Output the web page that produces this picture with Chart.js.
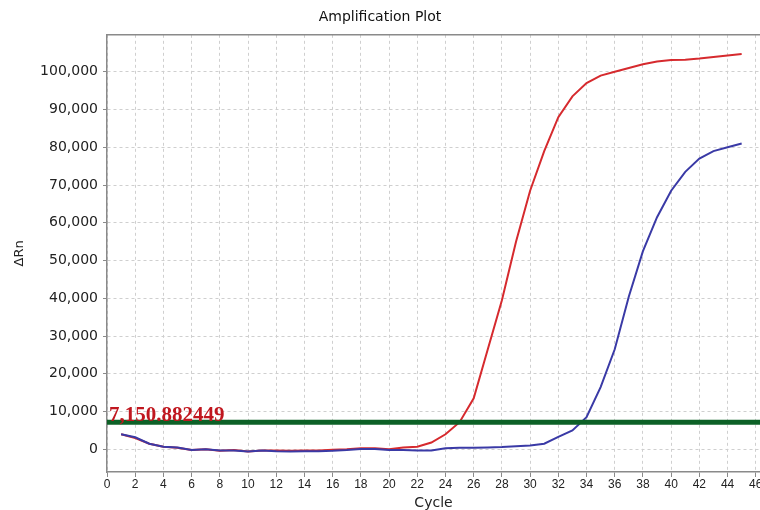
<!DOCTYPE html>
<html>
<head>
<meta charset="utf-8">
<script src="https://cdn.jsdelivr.net/npm/chart.js@4"></script>
<style>
  html, body { margin: 0; padding: 0; background: #ffffff; }
  #wrap { width: 760px; height: 510px; position: relative; }
</style>
</head>
<body>
<div id="wrap"><canvas id="c"></canvas></div>
<script>
const cycles = [1,2,3,4,5,6,7,8,9,10,11,12,13,14,15,16,17,18,19,20,21,22,23,24,25,26,27,28,29,30,31,32,33,34,35,36,37,38,39,40,41,42,43,44,45];
const redSeries = [4000, 3000, 1500, 700, 400, -200, 0, -400, -200, -600, -300, -300, -400, -300, -300, -100, 0, 300, 300, 0, 500, 700, 1800, 4000, 7200, 13500, 26500, 39500, 55000, 68500, 79000, 88000, 93500, 97000, 99000, 100000, 101000, 102000, 102700, 103100, 103200, 103500, 103900, 104300, 104700];
const blueSeries = [4000, 3200, 1500, 700, 500, -200, 0, -300, -300, -600, -300, -500, -600, -500, -500, -400, -200, 100, 100, -200, -200, -300, -300, 300, 400, 400, 500, 600, 800, 1000, 1500, 3300, 5000, 8500, 16500, 26500, 40500, 52500, 61500, 68500, 73500, 77000, 79000, 80000, 81000];
const threshold = 7150.882449;
const thresholdLabel = "7,150.882449";
const xTicks = [0,2,4,6,8,10,12,14,16,18,20,22,24,26,28,30,32,34,36,38,40,42,44,46];
const yTicks = [0,10000,20000,30000,40000,50000,60000,70000,80000,90000,100000];
const xRange = [0, 46.3];
const yRange = [-6000, 109800];

const toPts = (ys) => ys.map((y, i) => ({x: cycles[i], y: y}));

const decor = {
  id: 'decor',
  afterDatasetsDraw(chart) {
    const {ctx, chartArea, scales} = chart;
    ctx.save();
    ctx.strokeStyle = '#8a8a8a';
    ctx.lineWidth = 1.5;
    ctx.beginPath();
    ctx.moveTo(chartArea.left, chartArea.top);
    ctx.lineTo(chartArea.right, chartArea.top);
    ctx.stroke();
    const y = scales.y.getPixelForValue(threshold);
    ctx.fillStyle = '#c0171f';
    ctx.font = 'bold 21px "Liberation Serif", "Times New Roman", serif';
    ctx.textAlign = 'left';
    ctx.textBaseline = 'alphabetic';
    ctx.fillText(thresholdLabel, chartArea.left + 2, y - 1);
    ctx.restore();
  }
};

new Chart(document.getElementById('c'), {
  type: 'line',
  data: {
    datasets: [
      {
        label: 'threshold',
        data: [{x: xRange[0], y: threshold}, {x: xRange[1], y: threshold}],
        borderColor: '#0d6127',
        borderWidth: 5,
        pointRadius: 0,
        order: 0
      },
      {
        label: 'blue',
        data: toPts(blueSeries),
        borderColor: '#3a3aa6',
        borderWidth: 2,
        pointRadius: 0,
        tension: 0,
        order: 1
      },
      {
        label: 'red',
        data: toPts(redSeries),
        borderColor: '#d62a2e',
        borderWidth: 2,
        pointRadius: 0,
        tension: 0,
        order: 2
      }
    ]
  },
  options: {
    responsive: true,
    maintainAspectRatio: false,
    animation: false,
    layout: { padding: { left: 0, right: 0, top: 0, bottom: 0 } },
    plugins: {
      legend: { display: false },
      tooltip: { enabled: false },
      title: {
        display: true,
        text: 'Amplification Plot',
        color: '#111',
        font: { family: '"DejaVu Sans", sans-serif', size: 14, weight: 'normal', lineHeight: 1.2 },
        padding: { top: 9, bottom: 9 }
      }
    },
    scales: {
      x: {
        type: 'linear',
        min: xRange[0],
        max: xRange[1],
        afterBuildTicks(scale) { scale.ticks = xTicks.map(v => ({value: v})); },
        afterFit(scale) { scale.paddingLeft = 0; scale.paddingRight = 0; },
        ticks: {
          autoSkip: false,
          maxRotation: 0,
          padding: 2,
          color: '#222',
          font: { family: '"Liberation Sans", Arial, sans-serif', size: 12, lineHeight: 1.0 }
        },
        grid: {
          color: '#cfcfcf',
          lineWidth: 1,
          tickLength: 5,
          tickColor: '#8a8a8a'
        },
        border: { display: true, color: '#8a8a8a', width: 1.5, dash: [3, 3] },
        title: {
          display: true,
          text: 'Cycle',
          color: '#222',
          font: { family: '"DejaVu Sans", sans-serif', size: 14, lineHeight: 1.0 },
          padding: { top: 3, bottom: 0 }
        }
      },
      y: {
        type: 'linear',
        min: yRange[0],
        max: yRange[1],
        afterBuildTicks(scale) { scale.ticks = yTicks.map(v => ({value: v})); },
        afterFit(scale) { scale.width = 107; scale.paddingTop = 0; scale.paddingBottom = 0; },
        ticks: {
          padding: 5,
          color: '#222',
          font: { family: '"DejaVu Sans", sans-serif', size: 14 },
          callback: (v) => Number(v).toLocaleString('en-US')
        },
        grid: {
          color: '#cfcfcf',
          lineWidth: 1,
          tickLength: 4,
          tickColor: '#8a8a8a'
        },
        border: { display: true, color: '#8a8a8a', width: 1.5, dash: [3, 3] },
        title: {
          display: true,
          text: 'ΔRn',
          color: '#222',
          font: { family: '"DejaVu Sans", sans-serif', size: 13 },
          padding: { top: 12, bottom: 0 }
        }
      }
    }
  },
  plugins: [decor]
});
</script>
</body>
</html>
